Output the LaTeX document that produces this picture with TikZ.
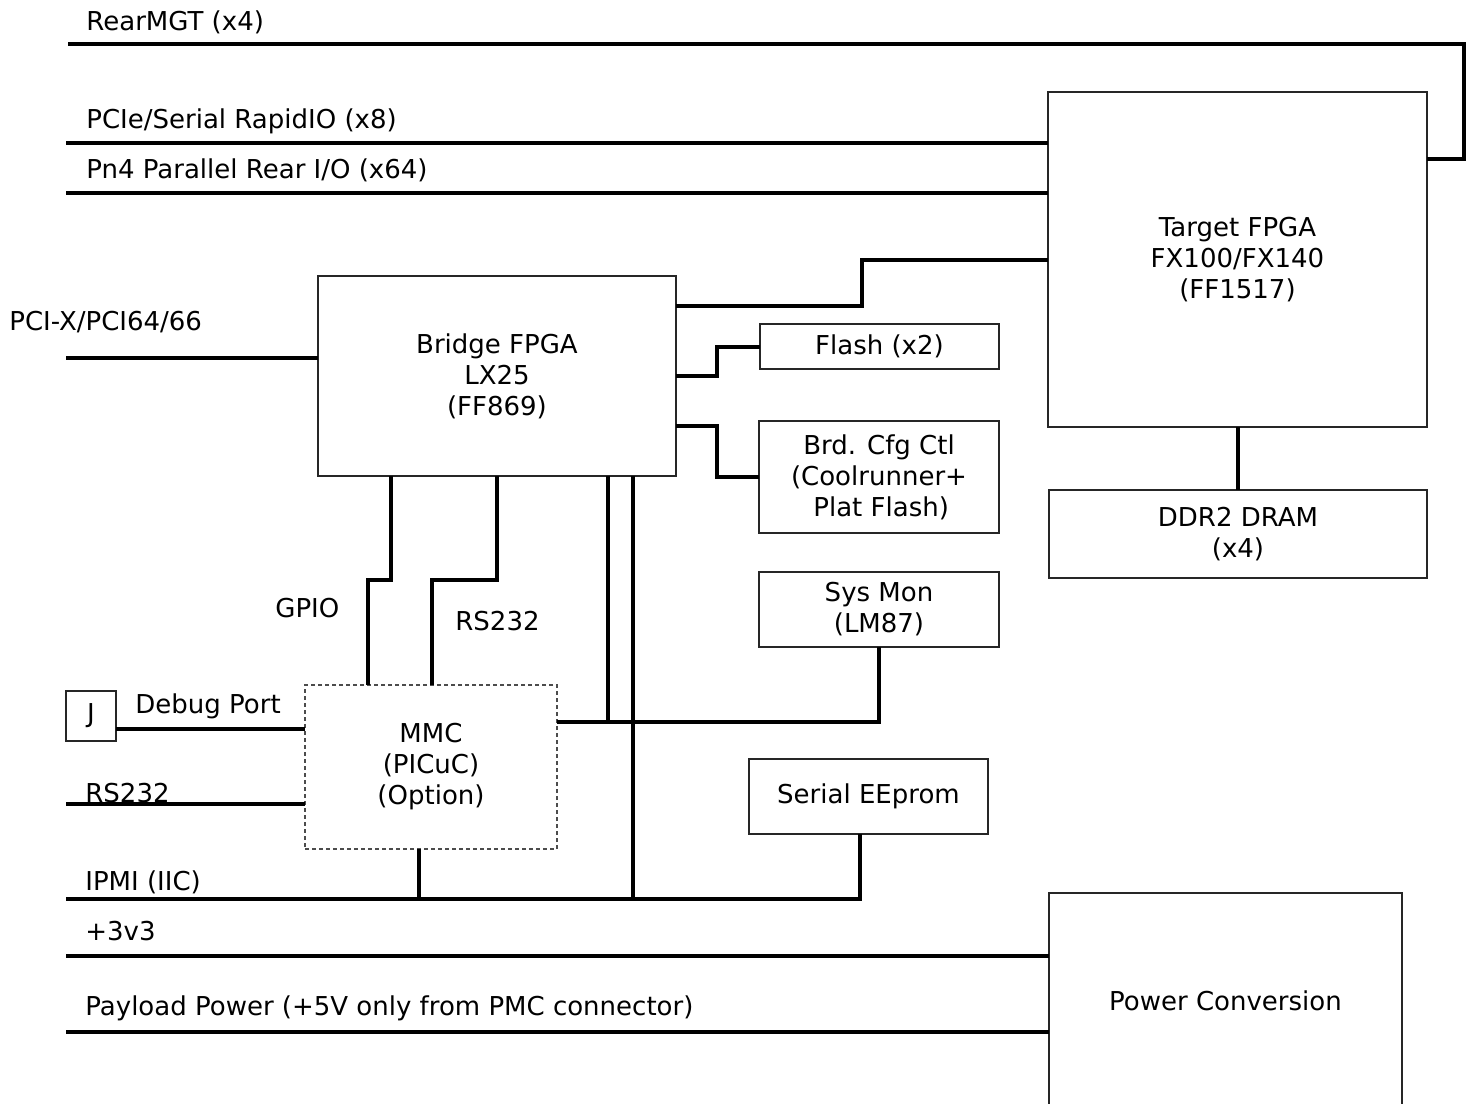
\documentclass[tikz,border=0pt]{standalone}
\usepackage{fontspec}
\setmainfont{DejaVu Sans}
\begin{document}
\begin{tikzpicture}[x=0.5pt,y=-0.5pt,
  box/.style={draw=black!85,line width=0.75pt,inner sep=0pt,outer sep=0pt,align=center,font=\fontsize{13}{15.5}\selectfont},
  dbox/.style={box,draw=black!70,dash pattern=on 2pt off 1.5pt},
  bus/.style={draw=black,line width=2pt},
  lbl/.style={anchor=base west,inner sep=0pt,font=\fontsize{13}{15.5}\selectfont}]
\clip (0,0) rectangle (1474,1104);
\fill[white] (0,0) rectangle (1474,1104);

% boxes
\node[box,minimum width=179pt,minimum height=100pt] (bridge) at (497,376) {Bridge FPGA\\LX25\\(FF869)};
\node[box,minimum width=189.5pt,minimum height=167.5pt] (target) at (1237.5,259.5) {Target FPGA\\FX100/FX140\\(FF1517)};
\node[box,minimum width=119.5pt,minimum height=22.5pt] (flash) at (879.5,346.5) {Flash (x2)};
\node[box,minimum width=120pt,minimum height=56pt] (brdcfg) at (879,477) {Brd. Cfg Ctl\\(Coolrunner+\\ \,Plat Flash)};
\node[box,minimum width=189pt,minimum height=44pt] (ddr) at (1238,534) {DDR2 DRAM\\(x4)};
\node[box,minimum width=120pt,minimum height=37.5pt] (sysmon) at (879,609.5) {Sys Mon\\(LM87)};
\node[box,minimum width=119.5pt,minimum height=37.5pt] (eeprom) at (868.5,796.5) {Serial EEprom};
\node[dbox,minimum width=126pt,minimum height=82pt] (mmc) at (431,767) {MMC\\(PICuC)\\(Option)};
\node[box,minimum width=25pt,minimum height=25pt] (J) at (91,716) {J};
\node[box,minimum width=176.5pt,minimum height=108pt] (power) at (1225.5,1001) {Power Conversion};

% free ends
\coordinate (rmL) at (68,44);
\coordinate (rmR) at (1464,44);
\coordinate (pcieL) at (66,143);
\coordinate (pnL) at (66,193);
\coordinate (pcixL) at (66,358);
\coordinate (rsL) at (66,804);
\coordinate (ipL) at (66,899);
\coordinate (v33L) at (66,956);
\coordinate (payL) at (66,1032);

% connectors
\draw[bus] (rmL) -- (rmR) |- (target.east |- 0,159);
\draw[bus] (pcieL) -- (pcieL -| target.west);
\draw[bus] (pnL) -- (pnL -| target.west);
\draw[bus] (bridge.east |- 0,306) -| (862,283) |- (target.west |- 0,260);
\draw[bus] (pcixL) -- (pcixL -| bridge.west);
\draw[bus] (bridge.east |- 0,376) -| (717,361) |- (flash.west);
\draw[bus] (bridge.east |- 0,426) -| (717,450) |- (brdcfg.west);
\draw[bus] (ddr.north |- target.south) -- (ddr.north);
\draw[bus] (bridge.south -| 391,0) -- (391,580) -- (368,580) -- (mmc.north -| 368,0);
\draw[bus] (bridge.south -| 497,0) -- (497,580) -- (432,580) -- (mmc.north -| 432,0);
\draw[bus] (bridge.south -| 608,0) -- (608,722);
\draw[bus] (bridge.south -| 633,0) -- (633,899);
\draw[bus] (mmc.east |- 0,722) -| (sysmon.south);
\draw[bus] (J.east |- 0,729) -- (mmc.west |- 0,729);
\draw[bus] (rsL) -- (rsL -| mmc.west);
\draw[bus] (ipL) -| (eeprom.south -| 860,0);
\draw[bus] (mmc.south -| 419,0) -- (ipL -| 419,0);
\draw[bus] (v33L) -- (v33L -| power.west);
\draw[bus] (payL) -- (payL -| power.west);

% labels
\node[lbl] (lrm) at (86,30) {RearMGT (x4)};
\node[lbl] (lpcie) at (86,128) {PCIe/Serial RapidIO (x8)};
\node[lbl] (lpn) at (86,178) {Pn4 Parallel Rear I/O (x64)};
\node[lbl] (lpcix) at (9,330) {PCI-X/PCI64/66};
\node[lbl] (lgpio) at (275,617) {GPIO};
\node[lbl] (lrsm) at (455,630) {RS232};
\node[lbl] (ldbg) at (135,713) {Debug Port};
\node[lbl] (lrs) at (85,802) {RS232};
\node[lbl] (lip) at (85,890) {IPMI (IIC)};
\node[lbl] (l33) at (85,940) {+3v3};
\node[lbl] (lpay) at (85,1015) {Payload Power (+5V only from PMC connector)};
\end{tikzpicture}
\end{document}
